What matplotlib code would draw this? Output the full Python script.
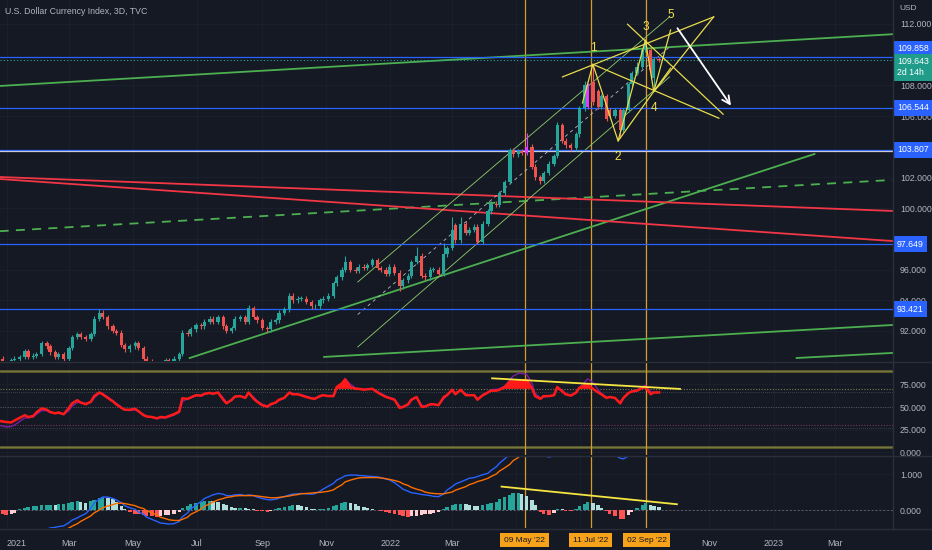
import warnings
warnings.filterwarnings("ignore")
import matplotlib
matplotlib.use("Agg")
import matplotlib.pyplot as plt
import matplotlib.dates as mdates
import numpy as np
import pandas as pd

plt.rcParams['font.family'] = ['Liberation Sans Narrow', 'Liberation Sans', 'DejaVu Sans']

# ---------------- data ----------------
closes = [90.2, 89.9, 89.9, 90.1, 90.2, 90.3, 90.7, 90.3, 90.4, 90.5,
          91.2, 91.0, 90.6, 90.3, 90.5, 90.2, 90.9, 91.6, 91.8, 91.6,
          91.5, 91.8, 92.8, 93.2, 92.9, 92.3, 92.0, 91.9, 91.1, 90.8,
          91.0, 91.2, 90.9, 90.2, 90.0, 89.9, 89.8, 89.9, 90.1, 90.0,
          90.2, 90.5, 91.9, 91.8, 92.1, 92.4, 92.3, 92.6, 92.8, 92.6,
          92.9, 92.3, 92.0, 92.2, 92.8, 92.9, 92.6, 93.5, 92.9, 92.7,
          92.2, 92.1, 92.6, 92.7, 93.2, 93.4, 94.3, 94.0, 94.1, 94.1,
          93.9, 93.6, 93.6, 94.0, 94.1, 94.3, 95.1, 95.5, 96.0, 96.5,
          96.0, 95.9, 96.2, 96.1, 96.3, 96.6, 96.1, 96.0, 95.7, 96.2,
          95.8, 94.9, 95.3, 95.6, 96.5, 96.9, 95.6, 95.5, 96.0, 96.0,
          95.7, 97.0, 97.4, 98.6, 97.9, 99.0, 98.4, 98.6, 98.8, 97.8,
          99.0, 99.8, 100.3, 100.2, 101.0, 101.7, 103.8, 103.5, 103.7, 103.6,
          104.0, 102.7, 102.0, 101.8, 102.3, 102.9, 103.4, 105.4, 104.4, 104.1,
          103.9, 104.8, 106.5, 108.0, 106.6, 106.9, 106.6, 107.3, 105.8, 106.0,
          106.4, 105.1, 106.4, 108.1, 108.8, 109.2, 110.3, 110.6, 109.0, 109.7,
          109.643]
open_override = {104: 98.9, 135: 108.2, 136: 107.6, 139: 106.4, 148: 110.3, 149: 108.5}
high_override = {23: 93.45, 57: 93.7, 79: 96.9, 95: 97.45, 101: 97.75, 103: 99.4, 105: 99.4,
                 120: 104.9, 127: 105.6, 133: 108.3, 135: 109.3, 145: 109.5, 147: 110.8}
low_override = {2: 89.2, 36: 89.5, 91: 94.6, 123: 101.6, 141: 104.6, 148: 108.4, 149: 107.6}
purple_bars = [120, 134]

rsi = [35, 34, 33.5, 33, 35, 38, 41, 39, 40, 44,
       48.5, 47, 44.5, 43, 44, 42, 49, 54, 57.5, 55,
       53, 56, 62, 66, 64, 60, 56, 53, 49, 47,
       47, 48, 45.6, 41, 39.5, 39, 37.5, 39, 38.5, 40,
       42, 45, 59.6, 59, 60.5, 63, 62.5, 64.5, 65.5, 64.5,
       66, 58, 54, 58, 61.5, 62, 60, 66, 59, 56,
       52, 50.4, 53, 55, 58, 60, 66, 64, 64, 63,
       61, 59.5, 59, 62, 63, 62, 62, 72, 76, 80.5,
       72, 70, 70, 69, 69.5, 70, 66, 64, 61, 60,
       58, 49, 50, 53, 58, 61, 50, 50.5, 53, 53,
       52, 61, 63, 69, 64, 69, 63, 63, 63, 58,
       63, 66, 68, 68, 69, 72, 78, 78, 78.5, 79,
       79.8, 70.5, 62, 59, 62, 62, 63, 72, 67, 64,
       62.5, 66, 71, 74, 75, 70, 66, 64, 60, 61,
       60, 54, 60, 65.5, 67, 68, 71, 72.5, 64, 66,
       66]
rsi_ma = [30, 29, 28, 28.5, 30, 34, 38, 38, 39, 42,
          46, 46, 44, 43, 43, 42, 46, 51, 55, 55,
          54, 55, 60, 65, 65, 61, 57, 54, 50, 47,
          46, 47, 45, 42, 40, 38.5, 37, 38, 38, 39,
          41, 44, 56, 59, 60, 62.5, 63, 64, 65.5, 65,
          66, 60, 55, 57, 61, 62, 61, 65, 61, 57,
          53, 51, 52, 55, 57, 60, 65, 65, 64.5, 63.5,
          62, 60, 59.5, 61, 63, 62.5, 63, 70, 75, 81,
          75, 71, 70, 69.5, 69.5, 70, 67, 65, 62, 60.5,
          59, 51, 50, 52, 57, 61, 52, 50.5, 52, 53,
          52.5, 59, 63, 68, 66, 68, 64.5, 63.5, 63, 59.5,
          62, 66, 69, 69.5, 70, 73, 80, 84, 87, 87,
          86, 76, 65, 60, 61, 62, 63, 70, 68, 65,
          63, 65, 71, 77, 81, 77, 69, 65, 61, 61,
          60, 55, 59, 65, 67.5, 69, 72, 74, 67, 66,
          66]
macd = [-0.95, -0.93, -0.9, -0.86, -0.82, -0.78, -0.74, -0.7, -0.65, -0.6,
        -0.56, -0.53, -0.5, -0.48, -0.46, -0.44, -0.35, -0.28, -0.22, -0.17,
        -0.1, 0.05, 0.2, 0.3, 0.36, 0.36, 0.32, 0.28, 0.2, 0.12,
        0.06, 0.02, -0.05, -0.12, -0.2, -0.26, -0.32, -0.36, -0.38, -0.39,
        -0.38, -0.32, -0.19, -0.08, 0.03, 0.14, 0.24, 0.32, 0.38, 0.42,
        0.46, 0.44, 0.4, 0.4, 0.42, 0.43, 0.4, 0.42, 0.4, 0.36,
        0.32, 0.29, 0.28, 0.3, 0.33, 0.37, 0.42, 0.44, 0.45, 0.46,
        0.45, 0.44, 0.45, 0.52, 0.58, 0.66, 0.74, 0.83, 0.9, 0.95,
        0.97, 0.97, 0.96, 0.95, 0.94, 0.93, 0.92, 0.9, 0.86, 0.84,
        0.76, 0.65, 0.58, 0.52, 0.48, 0.46, 0.43, 0.42, 0.4, 0.38,
        0.37, 0.45, 0.55, 0.65, 0.72, 0.78, 0.84, 0.88, 0.9, 0.93,
        0.98, 1.02, 1.1, 1.2, 1.3, 1.42, 1.55, 1.7, 1.85, 1.95,
        2.0, 1.95, 1.8, 1.6, 1.52, 1.47, 1.5, 1.6, 1.7, 1.72,
        1.7, 1.72, 1.8, 1.95, 2.05, 2.0, 1.9, 1.8, 1.7, 1.62,
        1.52, 1.44, 1.42, 1.5, 1.6, 1.7, 1.85, 1.95, 1.9, 1.88,
        1.87]
signal = [-1.1, -1.08, -1.05, -1.02, -0.98, -0.94, -0.9, -0.86, -0.82, -0.78,
          -0.74, -0.7, -0.66, -0.62, -0.6, -0.56, -0.5, -0.45, -0.38, -0.32,
          -0.24, -0.16, -0.08, 0.0, 0.06, 0.11, 0.15, 0.18, 0.19, 0.18,
          0.15, 0.12, 0.08, 0.04, -0.02, -0.08, -0.14, -0.2, -0.24, -0.27,
          -0.29, -0.29, -0.26, -0.2, -0.12, -0.05, 0.03, 0.1, 0.17, 0.22,
          0.28, 0.32, 0.35, 0.37, 0.39, 0.4, 0.4, 0.4, 0.4, 0.39,
          0.37, 0.35, 0.34, 0.34, 0.35, 0.37, 0.39, 0.41, 0.43, 0.45,
          0.46, 0.47, 0.48, 0.49, 0.5, 0.52, 0.56, 0.62, 0.7, 0.78,
          0.83, 0.87, 0.89, 0.9, 0.9, 0.9, 0.9, 0.89, 0.87, 0.85,
          0.82, 0.78, 0.73, 0.68, 0.63, 0.58, 0.54, 0.5, 0.47, 0.46,
          0.45, 0.45, 0.47, 0.5, 0.55, 0.6, 0.65, 0.7, 0.75, 0.79,
          0.83, 0.88, 0.93, 1.0, 1.08, 1.17, 1.27, 1.37, 1.46, 1.55,
          1.63, 1.7, 1.72, 1.72, 1.7, 1.67, 1.65, 1.65, 1.66, 1.67,
          1.68, 1.7, 1.72, 1.76, 1.8, 1.84, 1.85, 1.84, 1.8, 1.76,
          1.72, 1.68, 1.64, 1.62, 1.62, 1.64, 1.68, 1.72, 1.76, 1.79,
          1.8]
hist = [-0.1, -0.12, -0.14, -0.12, -0.08, 0.02, 0.05, 0.08, 0.1, 0.12,
        0.13, 0.14, 0.15, 0.14, 0.16, 0.18, 0.2, 0.22, 0.24, 0.22,
        0.2, 0.24, 0.28, 0.32, 0.35, 0.34, 0.3, 0.22, 0.12, 0.04,
        -0.06, -0.1, -0.12, -0.15, -0.17, -0.18, -0.19, -0.17, -0.15, -0.13,
        -0.1, -0.06, 0.06, 0.12, 0.16, 0.2, 0.22, 0.24, 0.26, 0.25,
        0.22, 0.18, 0.14, 0.08, 0.06, 0.06, 0.05, 0.04, 0.02, -0.02,
        -0.04, -0.05, -0.03, 0.02, 0.05, 0.08, 0.12, 0.14, 0.13, 0.1,
        0.07, 0.04, 0.02, 0.02, 0.03, 0.05, 0.1, 0.15, 0.19, 0.22,
        0.2, 0.16, 0.12, 0.09, 0.06, 0.04, 0.01, -0.03, -0.06, -0.08,
        -0.1, -0.14, -0.17, -0.19, -0.18, -0.16, -0.15, -0.12, -0.1, -0.08,
        -0.06, 0.02, 0.08, 0.14, 0.16, 0.18, 0.16, 0.14, 0.12, 0.1,
        0.13, 0.17, 0.2, 0.22, 0.3, 0.36, 0.42, 0.46, 0.46, 0.44,
        0.38, 0.28, 0.14, -0.06, -0.12, -0.14, -0.08, 0.03, 0.02, -0.02,
        -0.04, 0.02, 0.1, 0.18, 0.22, 0.2, 0.14, 0.06, -0.04, -0.1,
        -0.16, -0.24, -0.25, -0.15, -0.05, 0.05, 0.14, 0.19, 0.14, 0.11,
        0.08]
for name, arr in [('rsi', rsi), ('rsi_ma', rsi_ma), ('macd', macd), ('signal', signal), ('hist', hist)]:
    assert len(arr) == len(closes), (name, len(arr), len(closes))

levels = [109.858, 106.544, 103.807, 97.649, 93.421]
last_price = 109.643
price_ticks = [92, 94, 96, 98, 100, 102, 106, 108, 112]
marker_dates = ["2022-05-09", "2022-07-11", "2022-09-02"]
marker_labels = ["09 May '22", "11 Jul '22", "02 Sep '22"]
month_ticks = ["2021-01-01", "2021-03-01", "2021-05-01", "2021-07-01", "2021-09-01", "2021-11-01",
               "2022-01-01", "2022-03-01", "2022-05-01", "2022-07-01", "2022-09-01", "2022-11-01",
               "2023-01-01", "2023-03-01"]
month_labels = ["2021", "Mar", "May", "Jul", "Sep", "Nov", "2022", "Mar", "", "", "", "Nov", "2023", "Mar"]

green_lines = [(("2020-12-25", 107.96), ("2023-04-24", 111.33)),
               (("2021-06-24", 90.24), ("2023-02-09", 103.53)),
               (("2021-10-30", 90.31), ("2023-04-24", 92.39)),
               (("2023-01-23", 90.24), ("2023-04-24", 90.57))]
green_dashed = [(("2020-12-25", 98.5), ("2023-04-24", 101.84))]
red_lines = [(("2020-12-25", 102.03), ("2023-04-24", 99.82)),
             (("2020-12-25", 101.9), ("2023-04-24", 97.86))]
channel_lines = [(("2021-12-01", 95.19), ("2022-09-24", 112.46)),
                 (("2021-12-01", 90.96), ("2022-09-24", 108.55))]
channel_mid = [(("2021-12-01", 93.07), ("2022-09-24", 110.5))]
wave_path = [("2022-07-03", 106.85), ("2022-07-13", 109.37), ("2022-08-06", 104.38),
             ("2022-09-01", 110.96), ("2022-09-09", 107.59), ("2022-09-25", 111.61)]
yellow_lines = [(("2022-06-14", 108.55), ("2022-11-05", 112.46)),
                (("2022-07-13", 109.37), ("2022-11-10", 105.86)),
                (("2022-08-15", 111.98), ("2022-11-14", 106.12)),
                (("2022-08-06", 104.38), ("2022-09-25", 109.12)),
                (("2022-09-09", 107.59), ("2022-11-05", 112.46))]
wave_labels = [("1", "2022-07-13", 110.44), ("2", "2022-08-06", 103.34), ("3", "2022-09-01", 111.8),
               ("4", "2022-09-09", 106.53), ("5", "2022-09-25", 112.59)]
arrow_from = ("2022-09-30", 111.87)
arrow_to = ("2022-11-23", 106.53)
rsi_trend = (("2022-04-08", 81.6), ("2022-10-04", 69.9))
macd_trend = (("2022-04-17", 0.65), ("2022-10-01", 0.16))

# ---------------- style ----------------
BG = '#151924'
GRID = '#1d212d'
TXT = '#b2b5be'
UP = '#26a69a'
DN = '#ef5350'
W, H = 932, 550

def D(s):
    return mdates.date2num(pd.Timestamp(s))

dates = pd.bdate_range('2020-12-23', periods=len(closes), freq='3B')
xs = mdates.date2num(dates)
n = len(closes)
opens = [open_override.get(i, closes[i - 1] if i > 0 else 90.35) for i in range(n)]
highs = [high_override.get(i, max(opens[i], closes[i]) + 0.15) for i in range(n)]
lows = [low_override.get(i, min(opens[i], closes[i]) - 0.15) for i in range(n)]

fig = plt.figure(figsize=(W / 100, H / 100), dpi=100, facecolor=BG)
AXW = 893 / W

def pane(top, bottom):
    ax = fig.add_axes([0, 1 - bottom / H, AXW, (bottom - top) / H])
    ax.set_facecolor(BG)
    for s in ax.spines.values():
        s.set_visible(False)
    return ax

ax_p = pane(0, 361)
ax_r = pane(363, 455)
ax_m = pane(456, 528)

x0 = D("2021-01-01") - 7 / 1.05
x1 = x0 + 893 / 1.05
for ax in (ax_p, ax_r, ax_m):
    ax.set_xlim(x0, x1)
    ax.set_xticks([D(s) for s in month_ticks])
    ax.grid(True, color=GRID, lw=0.6, zorder=0)
    ax.set_axisbelow(True)
    ax.yaxis.tick_right()
    ax.tick_params(axis='y', length=0, pad=5, labelcolor=TXT, labelsize=6.3)
    ax.tick_params(axis='x', length=0, labelcolor=TXT, labelsize=6.5, pad=8)
    for d in marker_dates:
        ax.axvline(D(d), color='#d99a2b', lw=0.9, zorder=3)
ax_p.set_xticklabels([])
ax_r.set_xticklabels([])
ax_m.set_xticklabels(month_labels)
ax_m.get_xticklabels()[0].set_horizontalalignment('left')

# ---------------- price pane ----------------
ax_p.set_ylim(90.045, 113.56)
ax_p.set_yticks(price_ticks)
ax_p.set_yticklabels([f"{v:.3f}" for v in price_ticks])

for (a, b) in green_lines:
    ax_p.plot([D(a[0]), D(b[0])], [a[1], b[1]], color='#4caf50', lw=1.3, zorder=4)
for (a, b) in green_dashed:
    ax_p.plot([D(a[0]), D(b[0])], [a[1], b[1]], color='#4caf50', lw=1.3, ls=(0, (5, 4)), zorder=4)
for (a, b) in red_lines:
    ax_p.plot([D(a[0]), D(b[0])], [a[1], b[1]], color='#f23645', lw=1.3, zorder=4)
for (a, b) in channel_lines:
    ax_p.plot([D(a[0]), D(b[0])], [a[1], b[1]], color='#8fcf6a', lw=0.6, zorder=4)
for (a, b) in channel_mid:
    ax_p.plot([D(a[0]), D(b[0])], [a[1], b[1]], color='#b8bcc8', lw=0.6, ls=(0, (4, 4)), zorder=4)

for lv in levels:
    ax_p.axhline(lv, color='#2962ff', lw=0.9, zorder=4)
ax_p.axhline(103.72, color='#c8cbd6', lw=0.9, zorder=4)
ax_p.axhline(last_price, color=UP, lw=0.8, ls=(0, (1, 2)), zorder=4)

# candles
bw = 3.2 / 1.05
for i in range(n):
    o, c, h, l = opens[i], closes[i], highs[i], lows[i]
    col = UP if c >= o else DN
    if i in purple_bars:
        col = '#e040fb'
    ax_p.vlines(xs[i], l, h, color=col, lw=0.8, zorder=5)
    ax_p.bar(xs[i], max(abs(c - o), 0.05), bottom=min(o, c), width=bw, color=col, lw=0, zorder=5)

# wave drawing
YEL = '#e8dc4c'
wx = [D(d) for d, _ in wave_path]
wy = [p for _, p in wave_path]
ax_p.plot(wx, wy, color=YEL, lw=0.9, zorder=6)
for (a, b) in yellow_lines:
    ax_p.plot([D(a[0]), D(b[0])], [a[1], b[1]], color=YEL, lw=0.9, zorder=6)
for t, d, p in wave_labels:
    ax_p.text(D(d), p, t, color='#f2e34c', fontsize=8.5, ha='center', va='center', zorder=7)
ax_p.annotate('', xy=(D(arrow_to[0]), arrow_to[1]), xytext=(D(arrow_from[0]), arrow_from[1]),
              arrowprops=dict(arrowstyle='->', color='white', lw=1.3, mutation_scale=14), zorder=7)

# price axis boxes
ytr = ax_p.get_yaxis_transform()
def box(y, text, fc, dy):
    ax_p.annotate(text, xy=(1, y), xycoords=ytr, xytext=(4, dy), textcoords='offset pixels',
                  ha='left', va='center', fontsize=6.3, color='white', linespacing=1.25,
                  bbox=dict(boxstyle='square,pad=0.4', fc=fc, ec='none'),
                  zorder=10, annotation_clip=False)
box(109.858, '109.858', '#2962ff', 8)
box(last_price, '109.643\n2d 14h', '#1f9d8a', -7)
for lv in levels[1:]:
    box(lv, f"{lv:.3f}", '#2962ff', 0)

# ---------------- RSI pane ----------------
ax_r.set_ylim(-2.86, 98.46)
ax_r.set_yticks([0, 25, 50, 75])
ax_r.set_yticklabels(['0.000', '25.000', '50.000', '75.000'])
for lv in (90, 6):
    ax_r.axhline(lv, color='#56562a', lw=2.2, zorder=2)
    ax_r.axhline(lv, color='#85854a', lw=0.5, zorder=2)
ax_r.axhline(70, color='#7c7c52', lw=0.8, ls=(0, (1, 1.5)), zorder=2)
ax_r.axhline(67, color='#4c4f5c', lw=0.6, ls=(0, (1, 1.5)), zorder=2)
ax_r.axhline(50, color='#555866', lw=0.7, ls=(0, (1, 1.5)), zorder=2)
ax_r.axhline(30, color='#7e3462', lw=0.8, ls=(0, (1, 1.5)), zorder=2)
ax_r.axhline(27, color='#4c4f5c', lw=0.6, ls=(0, (1, 1.5)), zorder=2)
rsi_a = np.array(rsi)
ax_r.plot(xs, rsi_ma, color='#7b1fa2', lw=1.0, zorder=4)
ax_r.fill_between(xs, rsi_a, 70, where=rsi_a > 70, interpolate=True, color='#ff1a1a', lw=0, zorder=4)
ax_r.plot(xs, rsi, color='#ff1a1a', lw=1.8, zorder=5)
ax_r.plot([D(rsi_trend[0][0]), D(rsi_trend[1][0])], [rsi_trend[0][1], rsi_trend[1][1]],
          color='#f5e642', lw=1.3, zorder=6)

# ---------------- MACD pane ----------------
ax_m.set_ylim(-0.5, 1.5)
ax_m.set_yticks([0, 1])
ax_m.set_yticklabels(['0.000', '1.000'])
ax_m.axhline(0, color='#5d606b', lw=0.7, ls=(0, (2, 2)), zorder=2)
hcols = []
for i, v in enumerate(hist):
    prev = hist[i - 1] if i > 0 else v
    if v >= 0:
        hcols.append('#26a69a' if v >= prev else '#b2dfdb')
    else:
        hcols.append('#ff5252' if v <= prev else '#ffcdd2')
ax_m.bar(xs, hist, width=3.4 / 1.05, color=hcols, lw=0, zorder=3)
ax_m.plot(xs, macd, color='#2962ff', lw=1.0, zorder=4)
ax_m.plot(xs, signal, color='#ff6d00', lw=1.0, zorder=4)
ax_m.plot([D(macd_trend[0][0]), D(macd_trend[1][0])], [macd_trend[0][1], macd_trend[1][1]],
          color='#f5e642', lw=1.3, zorder=6)

xtr = ax_m.get_xaxis_transform()
for d, lab in zip(marker_dates, marker_labels):
    ax_m.annotate(lab, xy=(D(d), 0), xycoords=xtr, xytext=(0, -12), textcoords='offset pixels',
                  ha='center', va='center', fontsize=6, color='#131722',
                  bbox=dict(boxstyle='square,pad=0.45', fc='#f7a21b', ec='none'),
                  zorder=10, annotation_clip=False)

# separators and header text
for yy in (362, 455.5, 528.5):
    fig.add_artist(plt.Line2D([0, 1], [1 - yy / H, 1 - yy / H], color='#2a2e39', lw=1))
fig.add_artist(plt.Line2D([AXW, AXW], [1 - 528.5 / H, 1], color='#2a2e39', lw=1))
fig.text(5 / W, 1 - 12 / H, 'U.S. Dollar Currency Index, 3D, TVC', color=TXT, fontsize=6.3, va='center')
fig.text(899 / W, 1 - 9 / H, 'USD', color=TXT, fontsize=6, va='center')

fig.savefig('out.png', dpi=100, facecolor=BG)
